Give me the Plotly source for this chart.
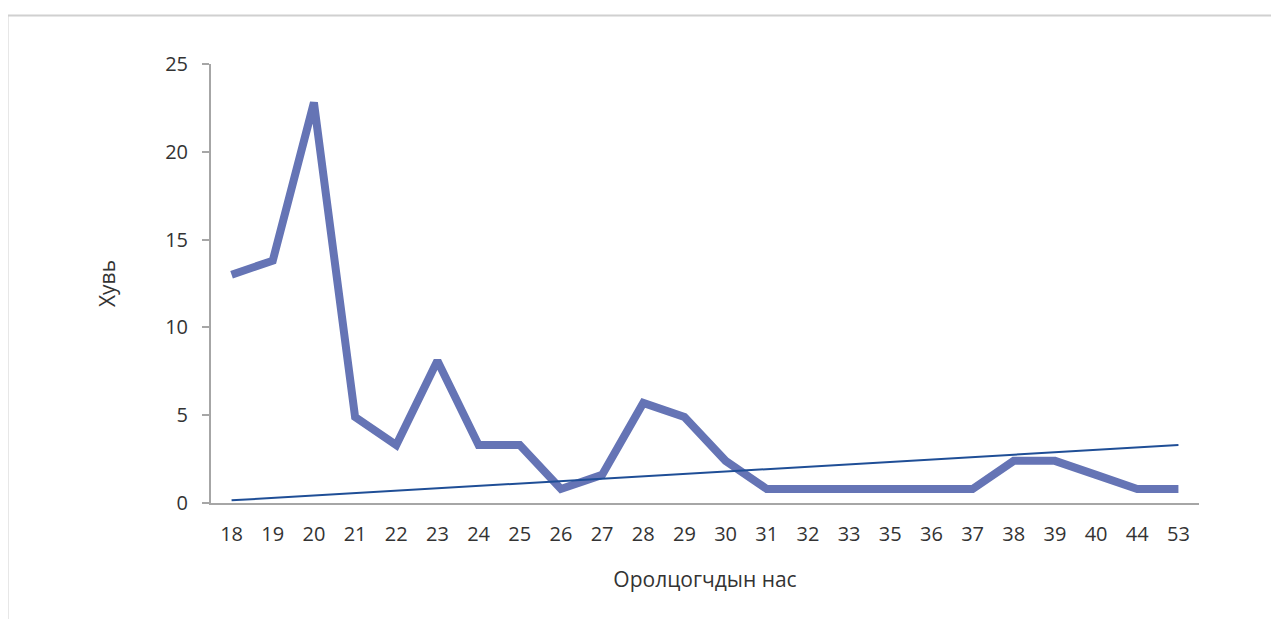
import plotly.graph_objects as go

ages = ["18", "19", "20", "21", "22", "23", "24", "25", "26", "27", "28", "29",
        "30", "31", "32", "33", "35", "36", "37", "38", "39", "40", "44", "53"]
percent = [13.0, 13.8, 22.8, 4.9, 3.3, 8.1, 3.3, 3.3, 0.8, 1.6, 5.7, 4.9,
           2.4, 0.8, 0.8, 0.8, 0.8, 0.8, 0.8, 2.4, 2.4, 1.6, 0.8, 0.8]
trend_x = ["18", "53"]
trend_y = [0.15, 3.3]
y_ticks = [0, 5, 10, 15, 20, 25]

FONT = "Open Sans"
W, H = 1279, 619
OFF = 8  # page body offset
ML, MT = 211 - OFF, 64 - OFF
pw, ph = 988, 439
MR, MB = W - ML - pw, H - MT - ph

def px(x):
    return (x - OFF - ML) / pw

def py(y):
    return (MT + ph - (y - OFF)) / ph

fig = go.Figure()
fig.add_trace(go.Scatter(x=ages, y=percent, mode="lines",
                         line=dict(color="#6574B5", width=8),
                         showlegend=False, hoverinfo="x+y"))
fig.add_trace(go.Scatter(x=trend_x, y=trend_y, mode="lines",
                         line=dict(color="#1F4E96", width=2),
                         showlegend=False, hoverinfo="skip"))

fig.update_layout(
    width=W, height=H,
    margin=dict(l=ML, r=MR, t=MT, b=MB),
    paper_bgcolor="white", plot_bgcolor="white",
    font=dict(family=FONT, color="#333333", size=20),
    xaxis=dict(type="category", categoryorder="array", categoryarray=ages,
               range=[-0.5, len(ages) - 0.5],
               showgrid=False, zeroline=False,
               showline=True, linecolor="#A6A6A6", linewidth=2,
               ticks="", tickfont=dict(size=20, color="#333333"),
               ticklabelstandoff=12,
               title=dict(text="Оролцогчдын нас", font=dict(size=21, color="#333333"),
                          standoff=26)),
    yaxis=dict(range=[0, 25], tickvals=y_ticks,
               showgrid=False, zeroline=False,
               showline=True, linecolor="#A6A6A6", linewidth=2,
               ticks="outside", ticklen=7, tickcolor="#A6A6A6", tickwidth=2,
               tickfont=dict(size=20, color="#333333"),
               ticklabelstandoff=10,
               title=dict(text="Хувь", font=dict(size=21, color="#333333"),
                          standoff=44)),
    shapes=[
        dict(type="rect", xref="paper", yref="paper",
             x0=px(7.5), x1=px(1278.5), y0=py(650), y1=py(15.5),
             line=dict(color="#D0D0D0", width=2), fillcolor="rgba(0,0,0,0)",
             layer="below"),
        dict(type="line", xref="paper", yref="paper",
             x0=px(205), x1=0, y0=0, y1=0,
             line=dict(color="#A6A6A6", width=2)),
    ],
)

fig.write_html("out.html")
